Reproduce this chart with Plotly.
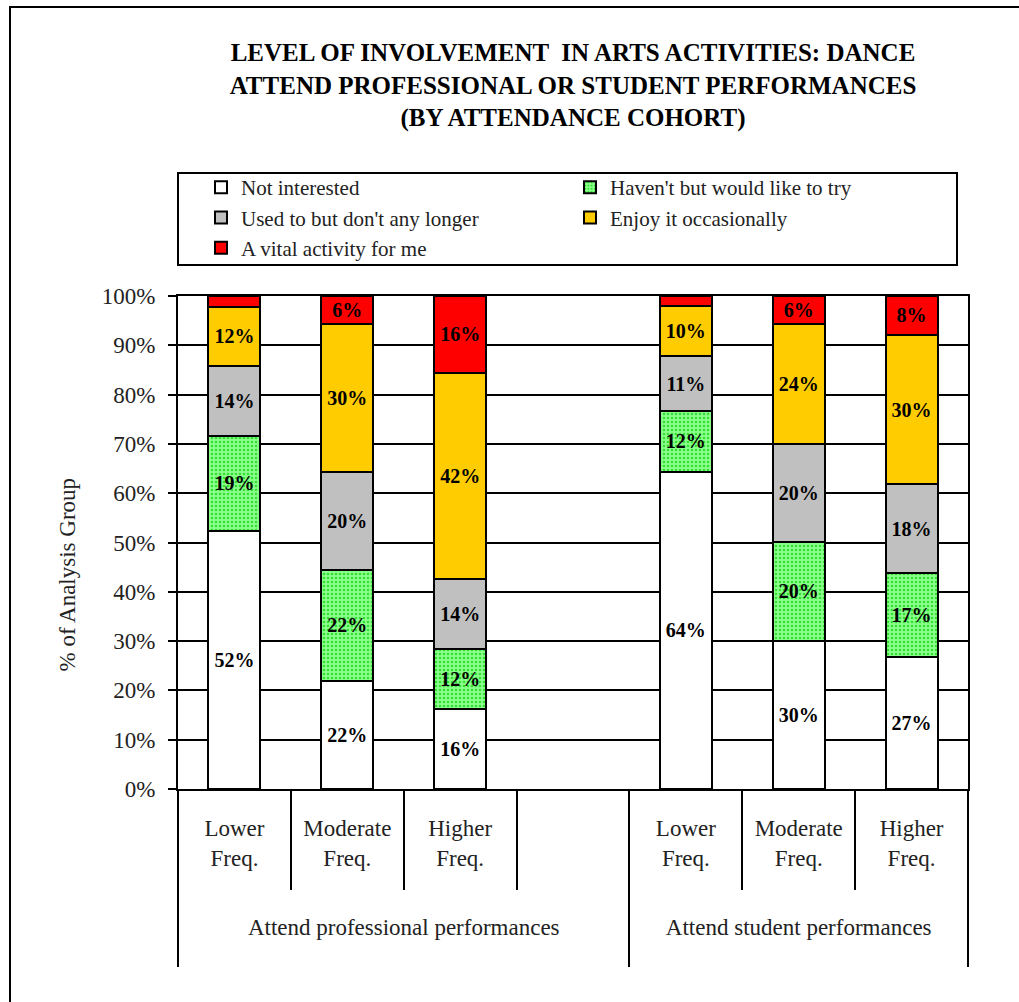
import plotly.graph_objects as go

# Attendance cohorts: two outer groups, with a blank slot closing the first group
GAP = "<br><span style='font-size:4px'> </span>"
groups = (["Attend professional performances" + GAP] * 4
          + ["Attend student performances" + GAP] * 3)
cohorts = ["Lower<br>Freq.<br> <br> ", "Moderate<br>Freq.<br> <br> ", "Higher<br>Freq.<br> <br> ", " ",
           "Lower<br>Freq.<br> <br> ", "Moderate<br>Freq.<br> <br> ", "Higher<br>Freq.<br> <br> "]

# Share of each analysis group (%), bottom to top of each stack
not_interested = [52.3, 22.0, 16.2, None, 64.4, 30.0, 26.8]
would_like_to_try = [19.4, 22.4, 12.3, None, 12.2, 20.2, 17.0]
used_to = [14.2, 19.9, 14.1, None, 11.2, 19.7, 18.0]
occasionally = [11.8, 30.0, 41.8, None, 10.2, 24.4, 30.3]
vital = [2.3, 5.7, 15.6, None, 2.0, 5.7, 7.9]

series = [
    ("Not interested", not_interested, "#FFFFFF", None),
    ("Haven't but would like to try", would_like_to_try, "#8CFF8C", "#33E033"),
    ("Used to but don't any longer", used_to, "#C0C0C0", None),
    ("Enjoy it occasionally", occasionally, "#FFCC00", None),
    ("A vital activity for me", vital, "#FF0000", None),
]

SERIF = "Liberation Serif"
TXT = "#222"

fig = go.Figure()
for name, vals, color, dots in series:
    labels = ["" if v is None or v < 4 else f"{round(v)}%" for v in vals]
    marker = dict(color=color, line=dict(color="black", width=2))
    if dots:
        marker["pattern"] = dict(shape=".", fgcolor=dots, bgcolor=color,
                                 size=4, solidity=0.35, fillmode="replace")
    fig.add_trace(go.Bar(
        name=name,
        x=[groups, cohorts],
        y=vals,
        width=0.46,
        marker=marker,
        text=labels,
        textposition="inside",
        insidetextanchor="middle",
        textangle=0,
        textfont=dict(family=SERIF, size=20, color="black", weight="bold"),
        hoverinfo="skip",
    ))

W, H = 1019, 1002
L, R, T, B = 178, 51, 296, 213
pw, ph = W - L - R, H - T - B


def px_x(p):
    return (p - L) / pw


def px_y(p):
    return (H - B - p) / ph


fig.update_layout(
    width=W, height=H, autosize=False,
    margin=dict(l=L, r=R, t=T, b=B, pad=0),
    barmode="stack",
    paper_bgcolor="white",
    plot_bgcolor="white",
    font=dict(family=SERIF, size=23, color=TXT),
    title=dict(
        text="LEVEL OF INVOLVEMENT  IN ARTS ACTIVITIES: DANCE<br>"
             "ATTEND PROFESSIONAL OR STUDENT PERFORMANCES<br>"
             "(BY ATTENDANCE COHORT)",
        x=px_x(573), xref="paper", xanchor="center",
        y=1 - 61 / H, yref="container", yanchor="top",
        font=dict(family=SERIF, size=25, color="black", weight="bold"),
    ),
    legend=dict(
        orientation="h",
        x=px_x(201), xanchor="left",
        y=px_y(167), yanchor="top",
        entrywidth=324, entrywidthmode="pixels",
        font=dict(family=SERIF, size=21, color=TXT),
        bgcolor="rgba(0,0,0,0)",
        itemclick=False, itemdoubleclick=False,
        traceorder="normal",
    ),
    showlegend=True,
    uniformtext=dict(minsize=19, mode="show"),
)

fig.update_yaxes(
    range=[0, 100], dtick=10, ticksuffix="%",
    showgrid=True, gridcolor="black", gridwidth=2,
    showline=True, linecolor="black", linewidth=2, mirror=True,
    ticks="outside", ticklen=8, tickcolor="black", tickwidth=2,
    ticklabelstandoff=8,
    tickfont=dict(family=SERIF, size=23, color=TXT),
    zeroline=False,
    fixedrange=True,
)

fig.update_xaxes(
    type="multicategory",
    showline=True, linecolor="black", linewidth=2, mirror=True,
    ticks="outside", ticklen=99, tickcolor="black", tickwidth=2,
    ticklabelstandoff=17,
    showdividers=True, dividercolor="black", dividerwidth=2,
    tickfont=dict(family=SERIF, size=23, color=TXT),
    fixedrange=True,
)

# Legend frame
fig.add_shape(type="rect", xref="paper", yref="paper",
              x0=px_x(178), x1=px_x(957), y0=px_y(265), y1=px_y(173),
              line=dict(color="black", width=2), fillcolor="rgba(0,0,0,0)")

# Outer chart frame
fig.add_shape(type="rect", xref="paper", yref="paper",
              x0=px_x(10), x1=px_x(1030), y0=px_y(1015), y1=px_y(7),
              line=dict(color="black", width=2), fillcolor="rgba(0,0,0,0)")

# Vertical axis title
fig.add_annotation(
    text="% of Analysis Group", textangle=-90,
    xref="paper", yref="paper", x=px_x(52), y=px_y(575),
    showarrow=False, font=dict(family=SERIF, size=23, color=TXT),
)

fig.write_html("out.html")
